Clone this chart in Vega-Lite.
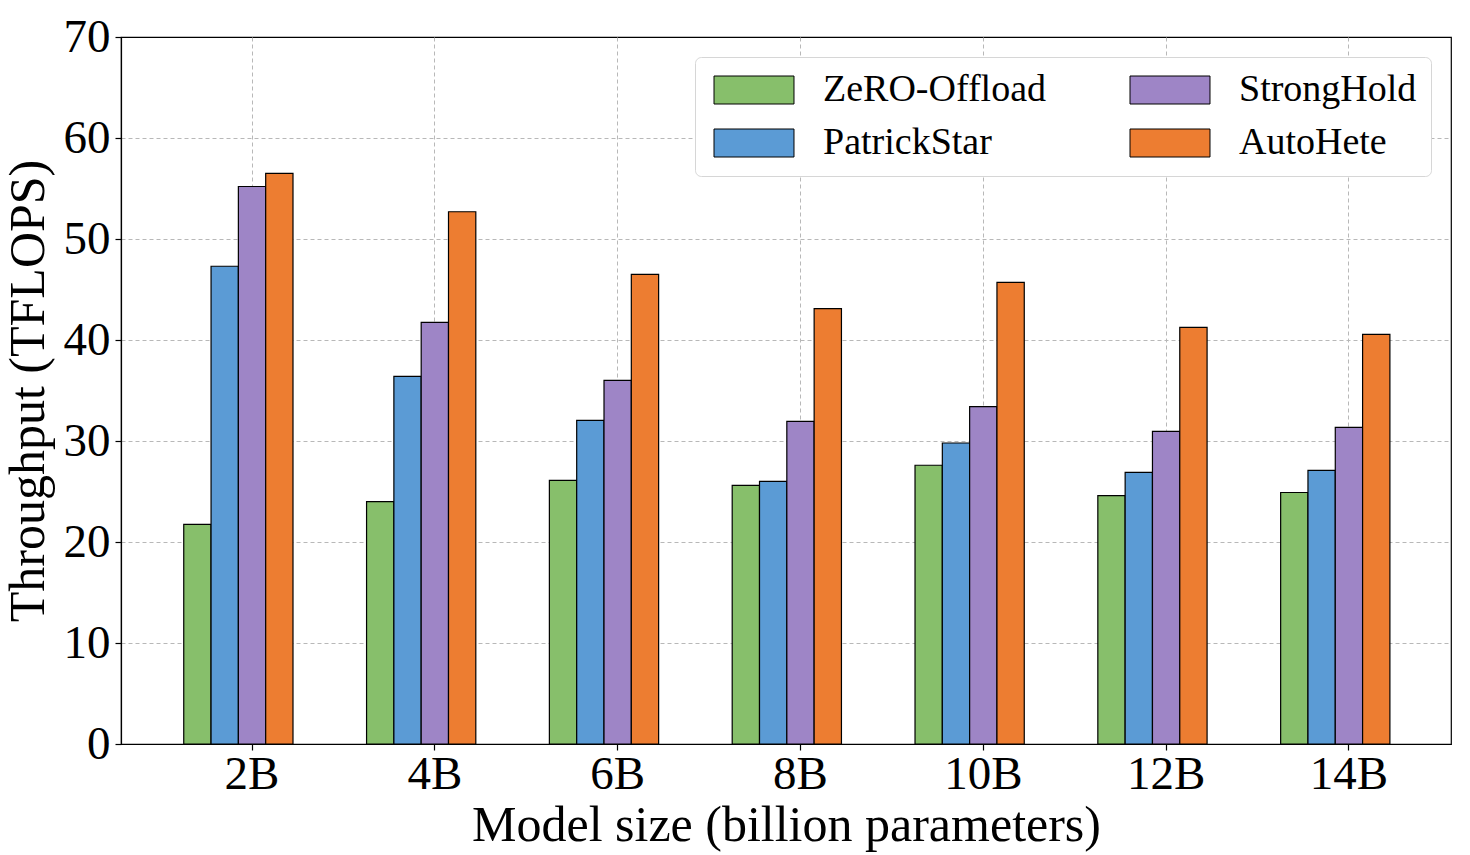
{
  "$schema": "https://vega.github.io/schema/vega-lite/v6.json",
  "autosize": "none",
  "padding": {"left": 121, "top": 37, "right": 19, "bottom": 111},
  "width": 1330,
  "height": 707,
  "background": "white",
  "data": {
    "values": [
      {"size": "2B", "method": "ZeRO-Offload", "value": 21.75},
      {"size": "2B", "method": "PatrickStar", "value": 47.3},
      {"size": "2B", "method": "StrongHold", "value": 55.2},
      {"size": "2B", "method": "AutoHete", "value": 56.5},
      {"size": "4B", "method": "ZeRO-Offload", "value": 24.0},
      {"size": "4B", "method": "PatrickStar", "value": 36.4},
      {"size": "4B", "method": "StrongHold", "value": 41.75},
      {"size": "4B", "method": "AutoHete", "value": 52.7},
      {"size": "6B", "method": "ZeRO-Offload", "value": 26.1},
      {"size": "6B", "method": "PatrickStar", "value": 32.05},
      {"size": "6B", "method": "StrongHold", "value": 36.0},
      {"size": "6B", "method": "AutoHete", "value": 46.5},
      {"size": "8B", "method": "ZeRO-Offload", "value": 25.6},
      {"size": "8B", "method": "PatrickStar", "value": 26.0},
      {"size": "8B", "method": "StrongHold", "value": 31.95},
      {"size": "8B", "method": "AutoHete", "value": 43.1},
      {"size": "10B", "method": "ZeRO-Offload", "value": 27.6},
      {"size": "10B", "method": "PatrickStar", "value": 29.8},
      {"size": "10B", "method": "StrongHold", "value": 33.4},
      {"size": "10B", "method": "AutoHete", "value": 45.7},
      {"size": "12B", "method": "ZeRO-Offload", "value": 24.6},
      {"size": "12B", "method": "PatrickStar", "value": 26.9},
      {"size": "12B", "method": "StrongHold", "value": 30.95},
      {"size": "12B", "method": "AutoHete", "value": 41.25},
      {"size": "14B", "method": "ZeRO-Offload", "value": 24.9},
      {"size": "14B", "method": "PatrickStar", "value": 27.1},
      {"size": "14B", "method": "StrongHold", "value": 31.35},
      {"size": "14B", "method": "AutoHete", "value": 40.55}
    ]
  },
  "mark": {"type": "bar", "stroke": "black", "strokeWidth": 1.2, "opacity": 1},
  "encoding": {
    "x": {
      "field": "size",
      "type": "nominal",
      "sort": ["2B", "4B", "6B", "8B", "10B", "12B", "14B"],
      "scale": {"paddingInner": 0.253, "paddingOuter": 0.264, "align": 0.65},
      "axis": {
        "title": "Model size (billion parameters)",
        "labelAngle": 0,
        "labelPadding": 1,
        "titlePadding": 3
      }
    },
    "xOffset": {
      "field": "method",
      "type": "nominal",
      "scale": {
        "domain": ["ZeRO-Offload", "PatrickStar", "StrongHold", "AutoHete", "pad"],
        "paddingInner": 0,
        "paddingOuter": 0
      }
    },
    "y": {
      "field": "value",
      "type": "quantitative",
      "scale": {"domain": [0, 70], "nice": false},
      "axis": {
        "title": "Throughput (TFLOPS)",
        "values": [0, 10, 20, 30, 40, 50, 60, 70],
        "labelPadding": 5,
        "titlePadding": 10,
        "gridOpacity": {"condition": {"test": "datum.value >= 70 || datum.value <= 0", "value": 0}, "value": 1}
      }
    },
    "color": {
      "field": "method",
      "type": "nominal",
      "scale": {
        "domain": ["ZeRO-Offload", "PatrickStar", "StrongHold", "AutoHete"],
        "range": ["#87BF6B", "#5B9BD5", "#9E85C6", "#ED7D31"]
      },
      "legend": {"title": null}
    }
  },
  "config": {
    "font": "Liberation Serif",
    "view": {"stroke": "black", "strokeWidth": 1.2},
    "axis": {
      "zindex": 1,
      "labelFont": "Liberation Serif",
      "labelFontSize": 47,
      "labelColor": "black",
      "titleFont": "Liberation Serif",
      "titleFontSize": 50,
      "titleFontWeight": "normal",
      "titleColor": "black",
      "domainColor": "black",
      "domainWidth": 1.2,
      "tickColor": "black",
      "tickSize": 6,
      "tickWidth": 1.2,
      "grid": true,
      "gridColor": "#b8b8b8",
      "gridDash": [4, 3],
      "gridWidth": 1
    },
    "legend": {
      "orient": "top-right",
      "offset": 20,
      "columns": 2,
      "columnPadding": 78,
      "rowPadding": 15,
      "padding": 14,
      "fillColor": "white",
      "strokeColor": "#d6d6d6",
      "cornerRadius": 6,
      "symbolType": "M-1,-1L4.714,-1L4.714,1L-1,1Z",
      "symbolSize": 784,
      "symbolStrokeColor": "black",
      "symbolStrokeWidth": 1,
      "symbolOpacity": 1,
      "labelFont": "Liberation Serif",
      "labelFontSize": 38,
      "labelColor": "black",
      "labelOffset": 76,
      "labelLimit": 400
    }
  }
}
